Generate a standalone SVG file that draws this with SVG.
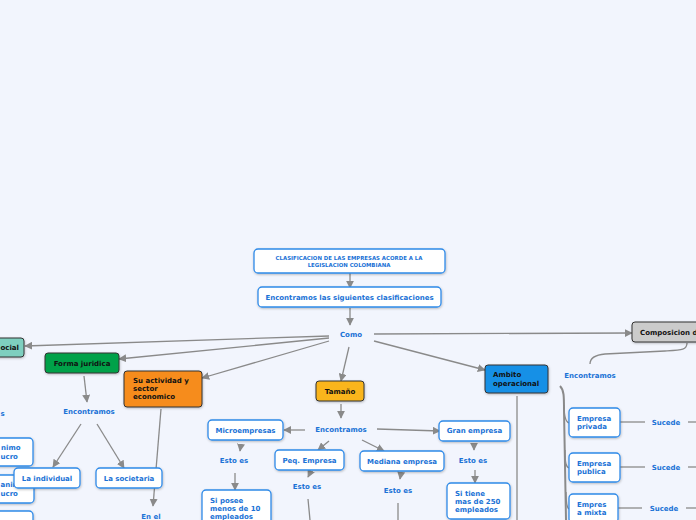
<svg xmlns="http://www.w3.org/2000/svg" width="696" height="520" viewBox="0 0 696 520">
<defs>
<marker id="ah" viewBox="0 0 10 10" refX="9" refY="5" markerWidth="8" markerHeight="8" markerUnits="userSpaceOnUse" orient="auto">
<path d="M0,0 L10,5 L0,10 z" fill="#8a8a8a"/>
</marker>
<filter id="sh" x="-10%" y="-10%" width="130%" height="140%">
<feDropShadow dx="0.5" dy="1" stdDeviation="0.8" flood-color="#000" flood-opacity="0.25"/>
</filter>
</defs>
<style>
text{font-family:"DejaVu Sans",Verdana,sans-serif;font-weight:bold;font-size:7px;}
.b{fill:#1a72d6;}
.k{fill:#111;}
.t{font-size:5.4px;}
.box{fill:#fff;stroke:#2f8ae8;stroke-width:1.3;filter:url(#sh);}
.dk{stroke:#333;stroke-width:1;filter:url(#sh);}
.c{fill:none;stroke:#8a8a8a;stroke-width:1.3;}
.ca{fill:none;stroke:#8a8a8a;stroke-width:1.3;marker-end:url(#ah);}
</style>
<rect width="696" height="520" fill="#f2f5fd"/>

<g id="connectors">
<line class="ca" x1="350" y1="273" x2="350" y2="288"/>
<line class="ca" x1="350" y1="308" x2="350" y2="325"/>
<line class="ca" x1="329" y1="336" x2="25" y2="346"/>
<line class="ca" x1="329" y1="338" x2="119" y2="359"/>
<line class="ca" x1="329" y1="341" x2="202" y2="378"/>
<line class="ca" x1="349" y1="347" x2="341" y2="381"/>
<line class="ca" x1="374" y1="341" x2="485" y2="370"/>
<line class="ca" x1="374" y1="334" x2="632" y2="333"/>
<line class="ca" x1="84" y1="376" x2="87" y2="402"/>
<line class="ca" x1="81" y1="424" x2="53" y2="467"/>
<line class="ca" x1="97" y1="424" x2="124" y2="468"/>
<line class="ca" x1="161" y1="409" x2="153" y2="506"/>
<line class="ca" x1="341" y1="404" x2="341" y2="418"/>
<line class="ca" x1="305" y1="430" x2="284" y2="430"/>
<line class="ca" x1="329" y1="441" x2="318" y2="450"/>
<line class="ca" x1="362" y1="440" x2="384" y2="451"/>
<line class="ca" x1="377" y1="429" x2="440" y2="431"/>
<line class="ca" x1="241" y1="444" x2="240" y2="451"/>
<line class="ca" x1="235" y1="473" x2="235" y2="490"/>
<line class="ca" x1="310" y1="473" x2="308" y2="477"/>
<line class="c" x1="308" y1="499" x2="310" y2="520"/>
<line class="ca" x1="401" y1="473" x2="400" y2="479"/>
<line class="c" x1="398" y1="503" x2="398" y2="520"/>
<line class="ca" x1="474" y1="443" x2="474" y2="450"/>
<line class="ca" x1="475" y1="470" x2="475" y2="483"/>
<line class="c" x1="517" y1="396" x2="517" y2="520"/>
<path class="c" d="M687,343 C687,350 682,350 665,351 L605,354 C594,355 590,359 590,364"/>
<path class="c" style="stroke-width:2" d="M560,386 C564,390 564,396 564,410 L566,520"/>
<path class="c" d="M564,405 C564,418 566,422 569,423"/>
<path class="c" d="M565,450 C565,463 566,467 569,468"/>
<path class="c" d="M566,492 C566,504 567,508 569,509"/>
<line class="c" x1="620" y1="422" x2="645" y2="422"/>
<line class="c" x1="688" y1="422" x2="696" y2="422"/>
<line class="c" x1="620" y1="467" x2="645" y2="467"/>
<line class="c" x1="688" y1="467" x2="696" y2="467"/>
<line class="c" x1="618" y1="508" x2="642" y2="508"/>
<line class="c" x1="686" y1="508" x2="696" y2="508"/>
</g>

<g id="title">
<rect class="box" x="254" y="249" width="191" height="24" rx="4"/>
<text class="b t" x="349" y="259.5" text-anchor="middle">CLASIFICACION DE LAS EMPRESAS ACORDE A LA</text>
<text class="b t" x="349" y="266.5" text-anchor="middle">LEGISLACION COLOMBIANA</text>
</g>
<g id="clasificaciones">
<rect class="box" x="258" y="287" width="183" height="20" rx="4"/>
<text class="b" x="349.5" y="300" text-anchor="middle">Encontramos las siguientes clasificaciones</text>
</g>
<g id="como"><text class="b" x="351" y="337" text-anchor="middle">Como</text></g>

<g id="social">
<rect class="dk" x="-20" y="338" width="44" height="19" rx="3" fill="#7ecfbf"/>
<text class="k" x="0.5" y="350">ocial</text>
</g>
<g id="left-enc"><text class="b" x="0.5" y="416">s</text></g>
<g id="left-box1">
<rect class="box" x="-30" y="438" width="63" height="28" rx="4"/>
<text class="b" x="1" y="450">nimo</text>
<text class="b" x="0.5" y="459">ucro</text>
</g>
<g id="left-box2">
<rect class="box" x="-30" y="475" width="64" height="28" rx="4"/>
<text class="b" x="0.5" y="487">anim</text>
<text class="b" x="0.5" y="496">ucro</text>
</g>
<g id="left-box3">
<rect class="box" x="-30" y="511" width="63" height="20" rx="4"/>
</g>

<g id="forma">
<rect class="dk" x="45" y="353" width="74" height="20" rx="3" fill="#04a14a"/>
<text class="k" x="82" y="366" text-anchor="middle">Forma juridica</text>
</g>
<g id="forma-enc"><text class="b" x="89" y="414" text-anchor="middle">Encontramos</text></g>
<g id="individual">
<rect class="box" x="14" y="468" width="66" height="20" rx="4"/>
<text class="b" x="47" y="481" text-anchor="middle">La individual</text>
</g>
<g id="societaria">
<rect class="box" x="96" y="468" width="66" height="20" rx="4"/>
<text class="b" x="129" y="481" text-anchor="middle">La societaria</text>
</g>

<g id="actividad">
<rect class="dk" x="124" y="371" width="78" height="36" rx="3" fill="#f68c1f"/>
<text class="k" x="133" y="383">Su actividad y</text>
<text class="k" x="133" y="391">sector</text>
<text class="k" x="133" y="399">economico</text>
</g>
<g id="enel"><text class="b" x="151" y="518.5" text-anchor="middle">En el</text></g>

<g id="tamano">
<rect class="dk" x="316" y="381" width="48" height="20" rx="3" fill="#fab51b"/>
<text class="k" x="340" y="394" text-anchor="middle">Tamaño</text>
</g>
<g id="tam-enc"><text class="b" x="341" y="432" text-anchor="middle">Encontramos</text></g>

<g id="micro">
<rect class="box" x="208" y="420" width="75" height="20" rx="4"/>
<text class="b" x="245.5" y="433" text-anchor="middle">Microempresas</text>
</g>
<g id="micro-es"><text class="b" x="234" y="463" text-anchor="middle">Esto es</text></g>
<g id="micro-def">
<rect class="box" x="202" y="490" width="69" height="36" rx="4"/>
<text class="b" x="210" y="503">Si posee</text>
<text class="b" x="210" y="511">menos de 10</text>
<text class="b" x="210" y="519">empleados</text>
</g>

<g id="peq">
<rect class="box" x="275" y="450" width="69" height="20" rx="4"/>
<text class="b" x="309.5" y="463" text-anchor="middle">Peq. Empresa</text>
</g>
<g id="peq-es"><text class="b" x="307" y="489" text-anchor="middle">Esto es</text></g>

<g id="mediana">
<rect class="box" x="360" y="451" width="84" height="20" rx="4"/>
<text class="b" x="402" y="464" text-anchor="middle">Mediana empresa</text>
</g>
<g id="mediana-es"><text class="b" x="398" y="493" text-anchor="middle">Esto es</text></g>

<g id="gran">
<rect class="box" x="439" y="421" width="71" height="20" rx="4"/>
<text class="b" x="474.5" y="433" text-anchor="middle">Gran empresa</text>
</g>
<g id="gran-es"><text class="b" x="473" y="463" text-anchor="middle">Esto es</text></g>
<g id="gran-def">
<rect class="box" x="447" y="483" width="63" height="36" rx="4"/>
<text class="b" x="455" y="496">Si tiene</text>
<text class="b" x="455" y="504">mas de 250</text>
<text class="b" x="455" y="512">empleados</text>
</g>

<g id="ambito">
<rect class="dk" x="485" y="365" width="63" height="28" rx="3" fill="#1890e6"/>
<text class="k" x="493" y="377">Ambito</text>
<text class="k" x="493" y="386">operacional</text>
</g>

<g id="composicion">
<rect class="dk" x="632" y="322" width="72" height="20" rx="3" fill="#cbcbcb"/>
<text class="k" x="640" y="335">Composicion d</text>
</g>
<g id="comp-enc"><text class="b" x="590" y="378" text-anchor="middle">Encontramos</text></g>

<g id="privada">
<rect class="box" x="569" y="408" width="51" height="29" rx="4"/>
<text class="b" x="577" y="421">Empresa</text>
<text class="b" x="577" y="429">privada</text>
</g>
<g id="privada-s"><text class="b" x="666" y="425" text-anchor="middle">Sucede</text></g>
<g id="publica">
<rect class="box" x="569" y="453" width="51" height="29" rx="4"/>
<text class="b" x="577" y="466">Empresa</text>
<text class="b" x="577" y="474">publica</text>
</g>
<g id="publica-s"><text class="b" x="666" y="470" text-anchor="middle">Sucede</text></g>
<g id="mixta">
<rect class="box" x="569" y="494" width="49" height="29" rx="4"/>
<text class="b" x="577" y="507">Empres</text>
<text class="b" x="577" y="515">a mixta</text>
</g>
<g id="mixta-s"><text class="b" x="664" y="511" text-anchor="middle">Sucede</text></g>
</svg>
